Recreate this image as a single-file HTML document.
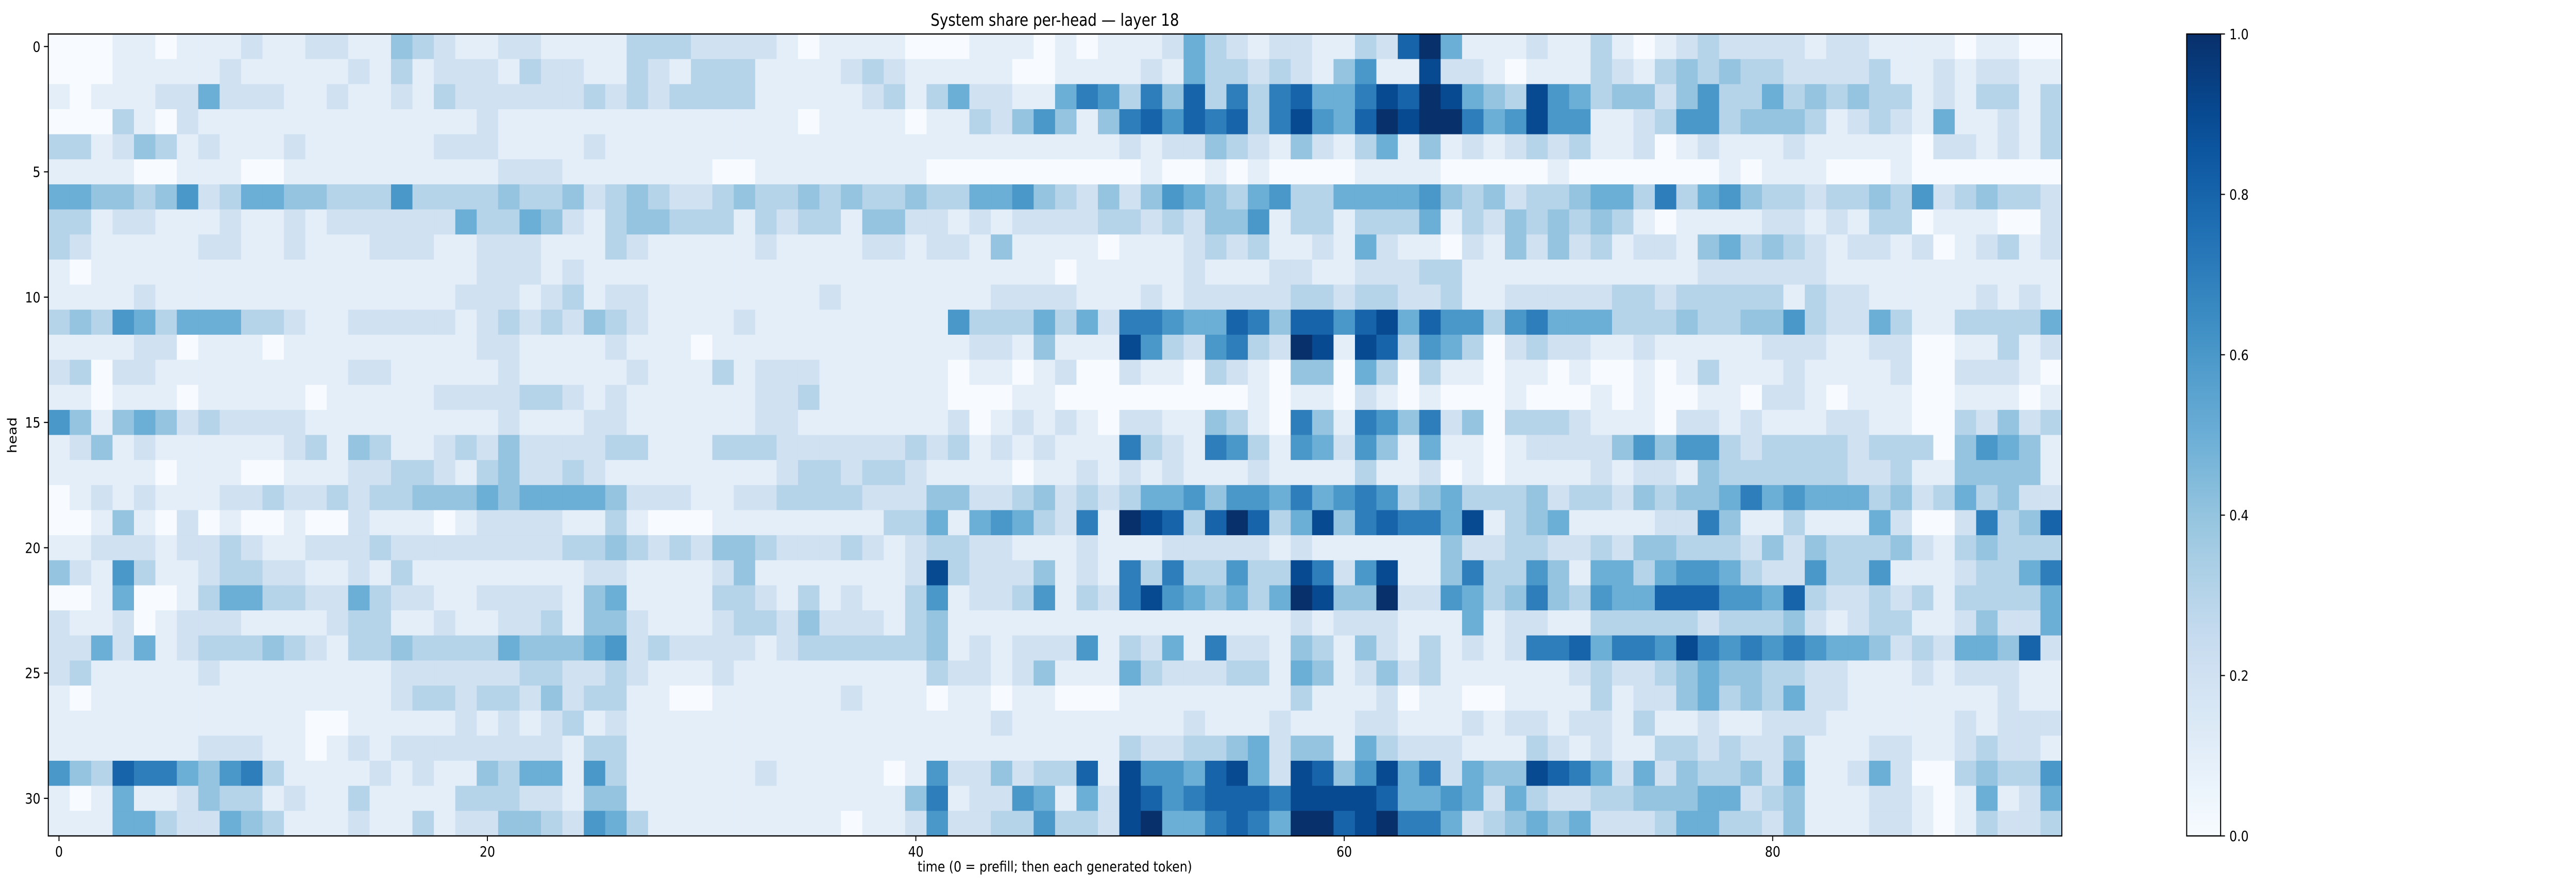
<!DOCTYPE html>
<html><head><meta charset="utf-8"><style>
html,body{margin:0;padding:0;background:#fff;width:100%;height:100%;overflow:hidden;}
svg{display:block;width:100vw;height:100vh;font-family:"DejaVu Sans","Liberation Sans",sans-serif;}
</style></head><body>
<svg id="chart" viewBox="0 0 5922 1728" preserveAspectRatio="none" xmlns="http://www.w3.org/2000/svg">
<g id="cells"></g>
<g id="axes"></g>
<defs><linearGradient id="cbgrad" x1="0" y1="1" x2="0" y2="0"></linearGradient></defs>
<g id="cbar"></g>
<text x="2425" y="50" font-size="33" text-anchor="middle">System share per-head — layer 18</text>
<text x="2425" y="1692" font-size="28" text-anchor="middle">time (0 = prefill; then each generated token)</text>
<text x="0" y="0" font-size="28" text-anchor="middle" transform="translate(38,845) rotate(-90)">head</text>
</svg>
<script>
const xTicks = [0, 20, 40, 60, 80];
const yTicks = [0, 5, 10, 15, 20, 25, 30];
const cbTicks = [0.0, 0.2, 0.4, 0.6, 0.8, 1.0];
const nTimes = 94;
const nHeads = 32;
// each char = share*10 ('X' = 1.0), one string per head
const shareRows = [
"000110111211221143211221"+"111333222210111100011101"+"0111253212211328X5111211"+"3101232222122111101100",
"000111112111112131222132"+"211321333111123211111001"+"111215332321461192210111"+"3213434332222311212211",
"101112252221121121322222"+"232323333111112313522115"+"7637483737855798X9543965"+"3442463353434331213313",
"000310211111111111112111"+"111111111110111101132464"+"14786878379658X9XX756966"+"1123663444312321511213",
"331243121112111111222111"+"121111111111111111111111"+"112122432142135141212323"+"1120121112111110221213",
"111100111001111111111222"+"111111100111111110000000"+"000100101000011110000010"+"0000001011100010000000",
"554434623554433363333433"+"423432234334343343355643"+"242465435633555564342334"+"5537356433233436234332",
"331221112112122222253354"+"213443331323314422121222"+"233232446133133351324343"+"4310111122121330111002",
"321111122112111222112221"+"113211111211112212214111"+"101112323112152110214242"+"3122145343212212012312",
"101111111111111111112221"+"211111111111111111111110"+"111112111221122233111111"+"1111122222211111111111",
"111121111111111111122212"+"312211111111211111112222"+"111212222233233223112222"+"2332333331322111112121",
"343653555332112222212323"+"243211112111111111633353"+"527765587488689586636755"+"5333433446322531133335",
"111122011101111111112211"+"112111011111111111122141"+"1196326732X9198365302322"+"1121111122211220011312",
"230221111111112211111211"+"111211131222111111011012"+"002110321044053031101101"+"0010131112111120022210",
"110111011111011111222233"+"212111111223111111000110"+"000000001011021010001000"+"1010011022101110011101",
"641454232222111111111211"+"122111111221111111201212"+"102211431074176472403332"+"1110221211122110032423",
"124121111112314311232422"+"223311133322222232312121"+"117321763165264151101222"+"2464663233332333046541",
"111110111001112233213422"+"321111111123323321111011"+"212121112111131120101111"+"2122143333332231144441",
"012121112232232334445455"+"554222112233332224422342"+"323556466575676345333423"+"3243445756555342353422",
"001410201001002111012222"+"113100011111111335156532"+"71X9838X8359478775913451"+"1112274113111520027348",
"112221223211222322222222"+"334323244322232123322111"+"211122222121111114223322"+"3244333242433342134333",
"421631123322112131111111"+"122111124111111129322241"+"217373363397269114733641"+"5535665322633611123357",
"001500135533225322112222"+"145111133213121136122361"+"3279654535X944X226534743"+"6558886658322323133335",
"211201222111123311211223"+"144211123324222134111111"+"111111111121222111512211"+"3333323334212331124225",
"225251233343213343333544"+"456232222123333334121222"+"613251722143142131212778"+"5776976767655423255482",
"231111121111111122222233"+"223211121111111113221241"+"115322233154124231111112"+"3223454433221112122211",
"101111111111111123323324"+"233110011111121110110110"+"001111111131112011001111"+"3122453435221111111211",
"111111111111001111121212"+"312111111111111111112111"+"111112111211122111212212"+"2131121122211111121222",
"111111122211012122222222"+"133111111111111111111111"+"113223345244153222111321"+"2113323224111221123221",
"643877546731111212114355"+"163111111211111016224233"+"819665895298469572544987"+"5252433425112520034336",
"101511243312113111133322"+"144111111111111147122651"+"529867888799998556525322"+"3344455234111221015125",
"111553225431112113122443"+"265311111111101126223363"+"329X557875XX89X775234545"+"2223553324111221013223"
];

const NS = "http://www.w3.org/2000/svg";
const PX0 = 111, PX1 = 4740, PY0 = 66, PY1 = 1623;
const cw = (PX1 - PX0) / nTimes, ch = (PY1 - PY0) / nHeads;
function xScale(t){ return PX0 + (t + 0.5) * cw; }
function yScale(h){ return PY0 + (h + 0.5) * ch; }
const stops = ["#f7fbff","#deebf7","#c6dbef","#9ecae1","#6baed6","#4292c6","#2171b5","#08519c","#08306b"];
function hex(c){ return [parseInt(c.slice(1,3),16),parseInt(c.slice(3,5),16),parseInt(c.slice(5,7),16)]; }
function blues(v){
  v = Math.max(0, Math.min(1, v));
  const p = v * 8, i = Math.min(7, Math.floor(p)), f = p - i;
  const a = hex(stops[i]), b = hex(stops[i+1]);
  return "rgb(" + a.map((x,k)=>Math.round(x + (b[k]-x)*f)).join(",") + ")";
}
function decode(c){ return c === "X" ? 1.0 : parseInt(c,10) / 10; }
function mk(tag, attrs, parent){
  const e = document.createElementNS(NS, tag);
  for (const k in attrs) e.setAttribute(k, attrs[k]);
  parent.appendChild(e);
  return e;
}
const cells = document.getElementById("cells");
shareRows.forEach((row, h) => {
  for (let t = 0; t < nTimes; t++) {
    const ch0 = row[t] || "0";
    const v = decode(ch0);
    const r = mk("rect", {x: (xScale(t) - cw/2).toFixed(2), y: (yScale(h) - ch/2).toFixed(2), width: (cw + 0.6).toFixed(2), height: (ch + 0.6).toFixed(2), fill: blues(v)}, cells);
    
    
  }
});
const axes = document.getElementById("axes");
const frame = mk("rect", {x: PX0, y: PY0, width: PX1 - PX0, height: PY1 - PY0, fill: "none", stroke: "#000", "stroke-width": 2.4}, axes);


xTicks.forEach(t => {
  const x = xScale(t);
  const tk = mk("line", {x1: x, x2: x, y1: PY1, y2: PY1 + 10, stroke: "#000", "stroke-width": 2.2}, axes);
  
  
  const lb = mk("text", {x: x, y: PY1 + 40, "font-size": 28, "text-anchor": "middle"}, axes);
  lb.textContent = t;
  
  
});
yTicks.forEach(h => {
  const y = yScale(h);
  const tk = mk("line", {x1: PX0 - 10, x2: PX0, y1: y, y2: y, stroke: "#000", "stroke-width": 2.2}, axes);
  
  
  const lb = mk("text", {x: PX0 - 18, y: y + 10, "font-size": 28, "text-anchor": "end"}, axes);
  lb.textContent = h;
  
  
});
const grad = document.getElementById("cbgrad");
for (let i = 0; i <= 20; i++) {
  mk("stop", {offset: (i/20), "stop-color": blues(i/20)}, grad);
}
const cbar = document.getElementById("cbar");
const CX0 = 5027, CX1 = 5105;
const cb = mk("rect", {x: CX0, y: PY0, width: CX1 - CX0, height: PY1 - PY0, fill: "url(#cbgrad)", stroke: "#000", "stroke-width": 2.4}, cbar);


cbTicks.forEach(v => {
  const y = PY1 - v * (PY1 - PY0);
  const tk = mk("line", {x1: CX1, x2: CX1 + 10, y1: y, y2: y, stroke: "#000", "stroke-width": 2.2}, cbar);
  
  
  const lb = mk("text", {x: CX1 + 20, y: y + 10, "font-size": 28}, cbar);
  lb.textContent = v.toFixed(1);
  
  
});
</script>
</body></html>
